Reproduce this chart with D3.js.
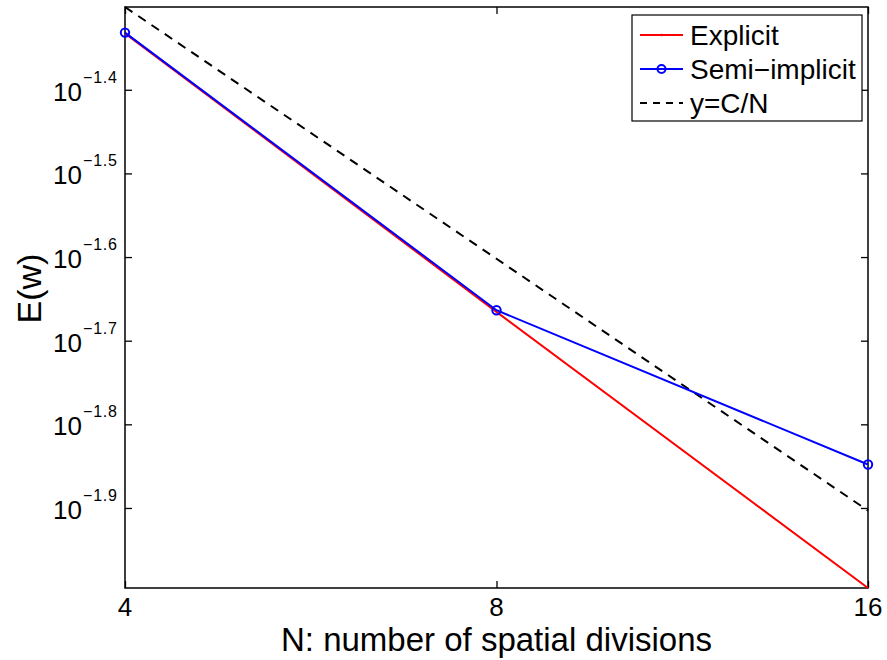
<!DOCTYPE html>
<html>
<head>
<meta charset="utf-8">
<script src="https://cdn.jsdelivr.net/npm/d3@7"></script>
<style>
  body { margin: 0; background: #fff; }
  svg { font-family: "Liberation Sans", Arial, Helvetica, sans-serif; }
</style>
</head>
<body>
<svg id="chart"></svg>
<script>
// data
const nValues = [4, 8, 16];
const explicit = [0.0465, 0.0216, 0.0101];
const semiImplicit = [0.0466, 0.0217, 0.01419];
const refC = 0.2; // y = C/N
const reference = nValues.map(n => refC / n);
const yTickExps = [-1.4, -1.5, -1.6, -1.7, -1.8, -1.9];
const seriesNames = ["Explicit", "Semi\u2212implicit", "y=C/N"];

const width = 887, height = 660;
const margin = { left: 125, top: 7, right: 19, bottom: 72 };
const w = width - margin.left - margin.right;
const h = height - margin.top - margin.bottom;

const svg = d3.select("#chart")
    .attr("width", width)
    .attr("height", height);

const g = svg.append("g")
    .attr("transform", `translate(${margin.left}, ${margin.top})`);

// Skalen
const x = d3.scaleLog().base(2)
    .domain(d3.extent(nValues))
    .range([0, w]);

const y = d3.scaleLog()
    .domain([d3.min(explicit), d3.max(reference)])
    .range([h, 0]);

const yTicks = yTickExps.map(e => Math.pow(10, e));

// ticks nach innen, auf allen vier Seiten
g.append("g")
    .attr("transform", `translate(0, ${h})`)
    .call(d3.axisBottom(x).tickValues(nValues).tickSize(-7).tickFormat(""));
g.append("g")
    .call(d3.axisTop(x).tickValues(nValues).tickSize(-7).tickFormat(""));
g.append("g")
    .call(d3.axisLeft(y).tickValues(yTicks).tickSize(-7).tickFormat(""));
g.append("g")
    .attr("transform", `translate(${w}, 0)`)
    .call(d3.axisRight(y).tickValues(yTicks).tickSize(-7).tickFormat(""));

g.selectAll(".domain").remove();
g.selectAll(".tick line").attr("stroke", "#000").attr("stroke-width", 1.3);

// box
g.append("rect")
    .attr("width", w)
    .attr("height", h)
    .attr("fill", "none")
    .attr("stroke", "#000")
    .attr("stroke-width", 1.5);

// x tick labels
g.selectAll(".xlab")
    .data(nValues)
    .join("text")
    .attr("x", d => x(d))
    .attr("y", h + 28)
    .attr("text-anchor", "middle")
    .attr("font-size", 26)
    .text(d => d);

// y tick labels 10^exp
const yl = g.selectAll(".ylab")
    .data(yTickExps)
    .join("g")
    .attr("transform", d => `translate(0, ${y(Math.pow(10, d))})`);
yl.append("text")
    .attr("x", -43)
    .attr("y", 11)
    .attr("text-anchor", "end")
    .attr("font-size", 26)
    .text("10");
yl.append("text")
    .attr("x", -42)
    .attr("y", -7)
    .attr("font-size", 16)
    .attr("letter-spacing", 0.8)
    .text(d => "\u2212" + Math.abs(d).toFixed(1));

// Achsenbeschriftungen
svg.append("text")
    .attr("x", margin.left + w / 2)
    .attr("y", 651)
    .attr("text-anchor", "middle")
    .attr("font-size", 33)
    .text("N: number of spatial divisions");

svg.append("text")
    .attr("transform", `translate(41, ${margin.top + h / 2 - 9}) rotate(-90)`)
    .attr("text-anchor", "middle")
    .attr("font-size", 34)
    .text("E(w)");

// Linien
const line = d3.line()
    .x((d, i) => x(nValues[i]))
    .y(d => y(d));

g.append("path")
    .datum(reference)
    .attr("fill", "none")
    .attr("stroke", "#000")
    .attr("stroke-width", 2)
    .attr("stroke-dasharray", "9,7")
    .attr("d", line);

g.append("path")
    .datum(explicit)
    .attr("fill", "none")
    .attr("stroke", "#ff0000")
    .attr("stroke-width", 2)
    .attr("d", line);

g.append("path")
    .datum(semiImplicit)
    .attr("fill", "none")
    .attr("stroke", "#0000ff")
    .attr("stroke-width", 2)
    .attr("d", line);

g.selectAll(".semi")
    .data(semiImplicit)
    .join("circle")
    .attr("cx", (d, i) => x(nValues[i]))
    .attr("cy", d => y(d))
    .attr("r", 4.2)
    .attr("fill", "none")
    .attr("stroke", "#0000ff")
    .attr("stroke-width", 2);

// Legende
const legend = svg.append("g")
    .attr("transform", "translate(632, 15)");
legend.append("rect")
    .attr("width", 230)
    .attr("height", 106)
    .attr("fill", "#fff")
    .attr("stroke", "#000")
    .attr("stroke-width", 1.2);

const legColors = ["#ff0000", "#0000ff", "#000"];
const rows = legend.selectAll(".row")
    .data(seriesNames)
    .join("g")
    .attr("transform", (d, i) => `translate(0, ${20 + i * 34})`);
rows.append("line")
    .attr("x1", 8).attr("x2", 51)
    .attr("stroke", (d, i) => legColors[i])
    .attr("stroke-width", 2)
    .attr("stroke-dasharray", (d, i) => i === 2 ? "7,6" : null);
rows.filter((d, i) => i === 0).append("circle")
    .attr("cx", 29.5).attr("r", 1.2).attr("fill", "#ff0000");
rows.filter((d, i) => i === 1).append("circle")
    .attr("cx", 29.5).attr("r", 4)
    .attr("fill", "none").attr("stroke", "#0000ff").attr("stroke-width", 2);
rows.append("text")
    .attr("x", 58)
    .attr("y", 10)
    .attr("font-size", 28)
    .text(d => d);
</script>
</body>
</html>
